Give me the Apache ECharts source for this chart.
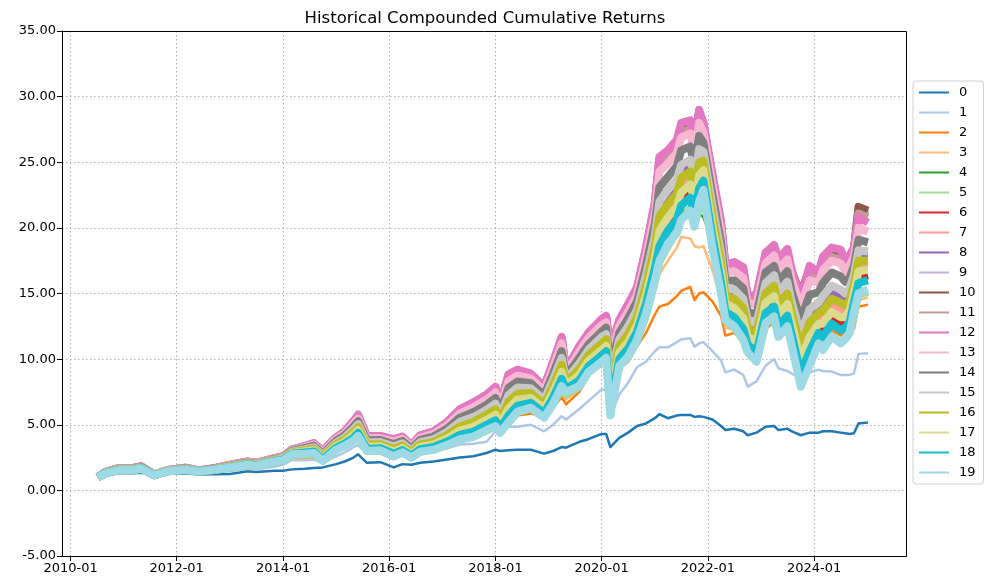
<!DOCTYPE html>
<html><head><meta charset="utf-8">
<script src="https://cdn.jsdelivr.net/npm/echarts@6/dist/echarts.min.js"></script>
<style>html,body{margin:0;padding:0;background:#fff}#c{width:996px;height:587px}</style>
</head><body><div id="c"></div>
<script>
const dates = ['2010-07-08','2010-09','2010-12','2011-03','2011-05','2011-08','2011-11','2012-03','2012-06','2012-09',
 '2013-01','2013-05','2013-07','2013-11','2014-01','2014-03','2014-06','2014-08','2014-10','2015-01',
 '2015-03','2015-05','2015-06','2015-08','2015-11','2016-02','2016-04','2016-06','2016-08','2016-11',
 '2017-02','2017-05','2017-08','2017-11','2018-01','2018-02','2018-04','2018-06','2018-09','2018-12',
 '2019-02','2019-04','2019-05','2019-08','2019-10','2020-01','2020-02','2020-03','2020-05','2020-07',
 '2020-09','2020-11','2021-01','2021-02','2021-04','2021-06','2021-07','2021-09','2021-10','2021-11',
 '2021-12','2022-02','2022-04','2022-05','2022-07','2022-09','2022-10','2022-12','2023-02','2023-04',
 '2023-05','2023-07','2023-08','2023-10','2023-12','2024-02','2024-03','2024-05','2024-07','2024-08',
 '2024-09','2024-10','2024-11','2025-01-05'];

const s0 = [1.0,1.15,1.3,1.3,1.35,1.15,1.28,1.3,1.2,1.22, 1.25,1.45,1.4,1.5,1.5,1.6,1.65,1.7,1.75,2.0, 2.2,2.5,2.75,2.1,2.15,1.75,2.0,1.95,2.1,2.2, 2.35,2.5,2.6,2.85,3.1,3.0,3.05,3.1,3.1,2.8, 3.0,3.3,3.25,3.7,3.9,4.3,4.3,3.3,4.0,4.4, 4.9,5.1,5.5,5.8,5.5,5.7,5.75,5.75,5.6,5.65, 5.6,5.4,4.9,4.6,4.7,4.5,4.2,4.4,4.85,4.9, 4.6,4.7,4.5,4.2,4.4,4.4,4.5,4.5,4.4,4.35, 4.3,4.35,5.1,5.17];
const s1 = [1.0,1.2,1.4,1.38,1.45,1.15,1.35,1.4,1.3,1.38, 1.45,1.65,1.6,1.8,1.95,2.3,2.3,2.35,2.1,2.6, 2.9,3.3,3.45,2.8,2.8,2.4,2.65,2.4,2.75,3.0, 3.2,3.5,3.55,3.7,4.5,4.5,4.85,4.85,5.0,4.5, 5.0,5.65,5.4,6.2,6.8,7.7,7.6,5.7,7.3,8.2, 9.4,9.8,10.6,10.9,10.9,11.3,11.5,11.6,10.95,11.2, 11.3,10.6,9.9,9.0,9.2,8.8,7.9,8.3,9.5,10.0, 9.3,9.1,8.9,8.55,9.0,9.2,9.1,9.05,8.8,8.8, 8.8,8.9,10.4,10.45];
const s2 = [1.0,1.25,1.45,1.45,1.55,1.15,1.4,1.48,1.35,1.45, 1.6,1.8,1.75,2.0,2.1,2.5,2.5,2.55,2.2,3.05, 3.3,3.6,3.75,2.9,2.95,2.5,2.8,2.45,2.85,3.05, 3.35,3.75,3.95,4.4,4.8,4.4,5.0,5.7,5.85,5.6, 6.3,7.1,6.55,7.5,8.85,9.6,10.0,7.9,9.3,9.8, 11.0,12.0,13.4,14.0,14.2,14.8,15.2,15.5,14.5,15.0, 15.1,14.4,13.3,11.8,12.0,11.5,10.9,10.5,12.3,12.8, 11.8,12.3,11.6,10.5,11.2,11.6,11.8,12.2,11.8,12.0, 12.0,12.3,14.0,14.15];
const s3 = [1.0,1.28,1.5,1.5,1.6,1.15,1.42,1.52,1.4,1.5, 1.65,1.88,1.82,2.1,2.18,2.6,2.62,2.67,2.22,3.07, 3.34,3.68,3.91,2.94,2.99,2.54,2.84,2.47,2.89,3.07, 3.39,3.81,4.01,4.48,4.84,4.4,5.08,5.82,6.03,5.58, 6.42,7.44,6.93,7.68,8.91,9.68,10.0,7.0,9.4,10.0, 11.2,12.8,15.2,16.5,17.5,18.5,19.3,19.2,18.6,18.5, 18.6,16.8,14.5,12.4,12.2,11.4,10.8,10.3,12.6,13.0, 11.8,12.4,11.4,9.5,10.6,11.4,11.2,11.9,11.4,11.7, 12.0,12.8,14.5,14.7];
const s4 = [1.0,1.3,1.5,1.52,1.62,1.15,1.44,1.55,1.42,1.52, 1.7,1.92,1.86,2.15,2.24,2.68,2.71,2.76,2.24,3.09, 3.37,3.74,4.03,2.97,3.02,2.57,2.87,2.49,2.92,3.09, 3.42,3.86,4.06,4.54,4.87,4.4,5.14,5.91,6.17,5.57, 6.51,7.7,7.22,7.82,8.96,9.74,10.1,6.6,9.45,10.1, 11.3,13.2,15.8,17.3,18.5,19.8,21.0,21.6,20.5,21.1, 20.8,19.0,15.5,12.9,12.4,11.4,10.7,10.1,12.7,13.1, 11.8,12.4,11.3,9.0,10.2,11.3,11.0,11.8,11.3,11.6, 12.0,13.2,14.8,15.0];
const s5 = [1.0,1.3,1.52,1.53,1.63,1.15,1.45,1.56,1.42,1.53, 1.71,1.93,1.87,2.17,2.27,2.72,2.76,2.81,2.25,3.1, 3.39,3.77,4.09,2.99,3.04,2.59,2.89,2.5,2.94,3.1, 3.44,3.88,4.08,4.57,4.89,4.4,5.17,5.96,6.24,5.56, 6.56,7.83,7.36,7.89,8.98,9.77,10.1,6.15,9.48,10.15, 11.4,13.35,15.9,17.4,18.65,19.7,20.8,21.45,20.3,21.55, 22.35,18.75,15.25,12.95,12.45,11.45,10.6,9.95,12.7,13.2, 11.75,12.45,11.15,8.45,9.85,11.25,10.85,11.75,11.25,11.55, 12.0,13.4,14.9,15.15];
const s6 = [1.0,1.33,1.58,1.58,1.69,1.16,1.47,1.6,1.45,1.57, 1.77,2.0,1.93,2.25,2.36,2.83,2.93,3.01,2.41,3.3, 3.64,4.12,4.48,3.25,3.29,2.88,3.16,2.7,3.22,3.4, 3.83,4.39,4.66,5.18,5.54,4.87,5.98,6.69,6.86,6.05, 7.29,8.75,7.86,8.6,9.64,10.5,10.8,6.77,10.3,11.1, 12.4,14.6,17.3,19.2,20.3,21.1,22.2,22.8,21.5,23.5, 24.0,19.7,16.2,13.9,13.55,12.7,11.4,10.9,13.9,14.4, 13.0,13.8,12.2,9.4,11.1,12.4,12.2,13.2,12.7,12.8, 13.3,14.65,16.2,16.4];
const s7 = [1.0,1.34,1.6,1.6,1.72,1.17,1.49,1.62,1.46,1.59, 1.8,2.04,1.96,2.29,2.41,2.88,3.01,3.12,2.52,3.44, 3.79,4.34,4.7,3.41,3.44,3.07,3.33,2.84,3.4,3.6, 4.08,4.72,5.03,5.57,5.97,5.19,6.5,7.14,7.23,6.39, 7.74,9.29,8.11,9.04,10.1,11.0,11.2,7.49,10.8,11.6, 12.9,15.3,18.1,20.3,21.3,22.1,23.2,23.8,22.4,24.5, 24.7,20.5,17.0,14.5,14.25,13.5,12.0,11.6,14.7,15.2, 13.8,14.6,13.1,10.4,12.2,13.1,13.2,14.1,13.8,13.7, 14.1,15.35,17.1,17.1];
const s8 = [1.0,1.36,1.62,1.62,1.74,1.17,1.5,1.64,1.48,1.61, 1.84,2.08,1.99,2.33,2.45,2.93,3.1,3.22,2.62,3.58, 3.95,4.55,4.92,3.57,3.6,3.25,3.5,2.98,3.58,3.8, 4.33,5.05,5.4,5.95,6.4,5.5,7.02,7.6,7.6,6.73, 8.2,9.83,8.35,9.48,10.5,11.4,11.7,8.2,11.3,12.2, 13.5,16.0,19.0,21.5,22.4,23.1,24.3,24.8,23.4,25.5, 25.5,21.3,17.8,15.1,14.95,14.3,12.6,12.4,15.4,16.0, 14.7,15.5,13.9,11.4,13.3,13.9,14.3,15.1,14.8,14.5, 15.0,16.05,17.9,17.9];
const s9 = [1.0,1.41,1.69,1.69,1.82,1.2,1.54,1.71,1.51,1.65, 1.93,2.18,2.08,2.43,2.58,3.08,3.37,3.56,2.96,4.0, 4.44,5.21,5.8,4.08,4.09,3.83,4.03,3.4,4.13,4.42, 5.1,6.07,6.55,7.15,7.73,6.47,8.64,9.02,8.75,7.77, 9.62,11.5,9.1,10.8,11.8,12.9,13.1,10.4,12.8,14.0, 15.3,18.2,21.7,25.0,25.5,26.3,27.6,27.8,26.2,28.6, 27.7,23.8,20.2,17.0,17.1,16.7,14.6,14.6,17.8,18.4, 17.3,18.1,16.5,15.1,16.7,16.3,17.4,18.1,17.9,17.3, 17.6,18.2,21.3,21.0];
const s10 = [1.0,1.41,1.69,1.69,1.83,1.2,1.55,1.72,1.52,1.66, 1.94,2.19,2.09,2.44,2.59,3.09,3.38,3.58,2.98,4.02, 4.47,5.26,5.65,4.12,4.12,3.86,4.06,3.42,4.17,4.46, 5.15,6.14,6.62,7.22,7.82,6.54,8.74,9.11,8.82,7.83, 9.71,11.6,9.15,10.9,11.9,13.0,13.2,10.6,12.9,14.1, 15.4,18.4,21.8,25.2,25.7,26.5,27.8,28.0,26.4,28.8, 27.9,23.9,20.3,17.1,17.3,16.8,14.7,14.8,17.95,18.55, 17.4,18.2,16.6,15.0,16.9,16.4,17.6,18.3,18.1,17.4, 17.7,18.4,21.6,21.3];
const s11 = [1.0,1.39,1.67,1.67,1.79,1.19,1.53,1.69,1.5,1.64, 1.9,2.15,2.05,2.4,2.57,3.07,3.34,3.52,2.92,3.96, 4.39,5.15,5.54,4.03,4.04,3.77,3.98,3.36,4.08,4.36, 5.03,5.97,6.44,7.03,7.6,6.38,8.48,8.88,8.64,7.67, 9.48,11.3,9.03,10.7,11.7,12.7,13.0,10.2,12.7,13.8, 15.1,18.0,21.4,24.6,25.2,26.0,27.3,27.5,26.0,28.3, 27.5,23.5,19.95,16.8,16.9,16.5,14.4,14.4,17.6,18.2, 17.0,17.8,16.2,14.8,16.3,16.1,17.1,17.8,17.6,17.0, 17.3,18.0,21.1,20.8];
const s12 = [1.0,1.42,1.7,1.7,1.83,1.2,1.55,1.72,1.52,1.66, 1.95,2.2,2.1,2.45,2.6,3.1,3.4,3.6,3.0,4.05, 4.5,5.3,5.7,4.15,4.15,3.9,4.1,3.45,4.2,4.5, 5.2,6.2,6.7,7.3,7.9,6.6,8.85,9.2,8.9,7.9, 9.8,11.7,9.2,11.0,12.0,13.05,13.3,10.7,13.0,14.2, 15.5,18.5,22.0,25.4,25.9,26.7,28.0,28.2,26.6,29.0, 28.0,24.1,20.5,17.2,17.4,17.0,14.8,14.9,18.1,18.7, 17.6,18.4,16.8,14.7,17.1,16.6,17.8,18.5,18.35,17.6, 17.9,18.5,20.8,20.4];
const s13 = [1.0,1.4,1.68,1.68,1.8,1.2,1.54,1.7,1.51,1.64, 1.92,2.16,2.07,2.41,2.56,3.05,3.31,3.49,2.89,3.92, 4.34,5.09,5.48,3.98,3.99,3.72,3.93,3.32,4.02,4.3, 4.95,5.87,6.33,6.92,7.47,6.29,8.33,8.74,8.53,7.57, 9.34,11.2,8.96,10.6,11.6,12.6,12.8,9.99,12.5,13.6, 14.9,17.8,21.1,24.3,24.9,25.7,26.9,27.2,25.7,28.0, 27.3,23.3,19.7,16.6,16.7,16.2,14.2,14.2,17.3,17.9, 16.8,17.6,16.0,14.0,16.0,15.8,16.8,17.5,17.3,16.7, 17.1,17.8,20.0,19.7];
const s14 = [1.0,1.38,1.66,1.66,1.78,1.19,1.52,1.68,1.49,1.63, 1.88,2.13,2.04,2.38,2.51,3.0,3.23,3.39,2.79,3.78, 4.19,4.87,5.26,3.82,3.84,3.53,3.76,3.18,3.84,4.1, 4.7,5.54,5.96,6.53,7.04,5.97,7.81,8.29,8.16,7.23, 8.89,10.6,8.71,10.1,11.1,12.1,12.4,9.27,12.0,13.1, 14.4,17.1,20.3,23.1,23.9,24.7,25.9,26.2,24.7,27.0, 26.5,22.5,18.9,16.0,16.0,15.4,13.6,13.4,16.6,17.1, 15.9,16.7,15.1,13.0,14.9,15.1,15.8,16.6,16.3,15.9, 16.2,17.1,19.1,18.9];
const s15 = [1.0,1.37,1.64,1.64,1.75,1.18,1.51,1.65,1.48,1.61, 1.85,2.09,2.01,2.34,2.47,2.95,3.14,3.28,2.68,3.64, 4.03,4.66,5.04,3.66,3.68,3.34,3.59,3.04,3.67,3.9, 4.45,5.22,5.58,6.14,6.61,5.66,7.28,7.83,7.79,6.89, 8.43,10.1,8.47,9.69,10.7,11.7,11.9,8.56,11.5,12.5, 13.8,16.4,19.4,22.0,22.9,23.7,24.8,25.2,23.8,26.0, 25.8,21.7,18.1,15.4,15.3,14.6,13.0,12.7,15.8,16.4, 15.1,15.9,14.3,11.9,13.8,14.3,14.8,15.6,15.3,15.0, 15.4,16.4,18.3,18.2];
const s16 = [1.0,1.35,1.61,1.61,1.73,1.17,1.49,1.63,1.47,1.6, 1.82,2.06,1.97,2.31,2.43,2.9,3.06,3.17,2.57,3.51, 3.87,4.44,4.81,3.49,3.52,3.16,3.41,2.91,3.49,3.7, 4.2,4.89,5.21,5.76,6.19,5.34,6.76,7.37,7.41,6.56, 7.97,9.56,8.23,9.26,10.3,11.2,11.5,7.84,11.0,11.9, 13.2,15.6,18.6,20.9,21.8,22.6,23.8,24.3,22.9,25.0, 25.1,20.9,17.4,14.8,14.6,13.9,12.3,12.0,15.0,15.6, 14.2,15.0,13.5,10.9,12.8,13.5,13.7,14.6,14.3,14.1, 14.5,15.7,17.5,17.5];
const s17 = [1.0,1.33,1.59,1.59,1.7,1.16,1.48,1.61,1.46,1.58, 1.79,2.02,1.94,2.27,2.39,2.85,2.97,3.06,2.46,3.37, 3.71,4.23,4.59,3.33,3.36,2.97,3.24,2.77,3.31,3.5, 3.95,4.56,4.84,5.37,5.76,5.03,6.24,6.91,7.04,6.22, 7.51,9.02,7.99,8.82,9.86,10.7,11.0,7.13,10.5,11.3, 12.6,14.9,17.7,19.8,20.8,21.6,22.7,23.3,22.0,24.0, 24.4,20.1,16.6,14.2,13.9,13.1,11.7,11.3,14.3,14.8, 13.4,14.2,12.7,9.9,11.7,12.7,12.7,13.6,13.2,13.2, 13.7,15.0,16.7,16.8];
const s18 = [1.0,1.32,1.57,1.57,1.68,1.16,1.46,1.59,1.44,1.57, 1.75,1.99,1.91,2.24,2.34,2.8,2.89,2.96,2.36,3.24, 3.56,4.01,4.37,3.16,3.21,2.79,3.07,2.64,3.13,3.3, 3.7,4.23,4.47,4.99,5.33,4.71,5.72,6.46,6.67,5.89, 7.06,8.49,7.74,8.39,9.43,10.3,10.6,6.41,10.0,10.8, 12.1,14.2,16.9,18.6,19.8,20.6,21.7,22.3,21.0,23.0, 23.6,19.3,15.8,13.6,13.2,12.3,11.1,10.5,13.5,14.0, 12.5,13.3,11.8,8.9,10.6,12.0,11.7,12.7,12.2,12.4, 12.8,14.3,15.8,16.0];
const s19 = [1.0,1.3,1.55,1.55,1.65,1.15,1.45,1.57,1.43,1.55, 1.72,1.95,1.88,2.2,2.3,2.75,2.8,2.85,2.25,3.1, 3.4,3.8,4.15,3.0,3.05,2.6,2.9,2.5,2.95,3.1, 3.45,3.9,4.1,4.6,4.9,4.4,5.2,6.0,6.3,5.55, 6.6,7.95,7.5,7.95,9.0,9.8,10.1,5.7,9.5,10.2, 11.5,13.5,16.0,17.5,18.8,19.6,20.6,21.3,20.1,22.0, 22.9,18.5,15.0,13.0,12.5,11.5,10.5,9.8,12.75,13.25, 11.7,12.5,11.0,7.9,9.5,11.2,10.7,11.7,11.2,11.5, 12.0,13.6,15.0,15.3];

const seriesValues = [s0,s1,s2,s3,s4,s5,s6,s7,s8,s9,s10,s11,s12,s13,s14,s15,s16,s17,s18,s19];
const seriesNames = ['0','1','2','3','4','5','6','7','8','9','10','11','12','13','14','15','16','17','18','19'];
const colors = ['#1f77b4','#aec7e8','#ff7f0e','#ffbb78','#2ca02c','#98df8a','#d62728','#ff9896','#9467bd','#c5b0d5',
  '#8c564b','#c49c94','#e377c2','#f7b6d2','#7f7f7f','#c7c7c7','#bcbd22','#dbdb8d','#17becf','#9edae5'];
const xTickYears = [2010,2012,2014,2016,2018,2020,2022,2024];
const yTicks = {min:-5, max:35, interval:5};

function ts(s){ const p = s.split('-'); return new Date(+p[0], +p[1]-1, p[2] ? +p[2] : 1).getTime(); }
const times = dates.map(ts);
const tickTimes = xTickYears.map(y => new Date(y,0,1).getTime());
const FONT = 'DejaVu Sans';
const G = {left:62, top:31, width:844, height:525};

const chart = echarts.init(document.getElementById('c'), null, {renderer:'canvas'});
chart.setOption({
  animation:false,
  backgroundColor:'#fff',
  title:{text:'Historical Compounded Cumulative Returns', left:480, top:5, textAlign:'center',
    textStyle:{fontFamily:FONT, fontSize:16.5, fontWeight:'normal', color:'#000'}},
  grid:{left:G.left, top:G.top, width:G.width, height:G.height, containLabel:false, outerBoundsMode:'none'},
  graphic:[{type:'rect', silent:true, z:100,
    shape:{x:G.left+0.5, y:G.top+0.5, width:G.width, height:G.height},
    style:{fill:'none', stroke:'#000', lineWidth:1}}],
  legend:{orient:'vertical', left:913, top:81, itemWidth:30, itemHeight:14, itemGap:7,
    padding:[5,8,5,5], borderColor:'#d0d0d0', borderWidth:1, borderRadius:3, backgroundColor:'#fff',
    textStyle:{fontFamily:FONT, fontSize:13, color:'#000', padding:[0,0,0,5]},
    itemStyle:{opacity:0}, lineStyle:{width:2}, data:seriesNames},
  xAxis:{type:'value', min:new Date(2009,10,3).getTime(), max:new Date(2025,8,24).getTime(),
    axisLine:{show:true, onZero:false, lineStyle:{color:'#000', width:1}},
    axisTick:{show:true, length:5, lineStyle:{color:'#000'}, customValues:tickTimes},
    axisLabel:{customValues:tickTimes, fontFamily:FONT, fontSize:13, color:'#000', margin:6,
      formatter:function(v){ const d = new Date(v); return d.getFullYear()+'-'+String(d.getMonth()+1).padStart(2,'0'); }},
    splitLine:{show:true, lineStyle:{color:'#b0b0b0', type:[1.5,2.5], width:1}}},
  yAxis:{type:'value', min:yTicks.min, max:yTicks.max, interval:yTicks.interval,
    axisLine:{show:true, lineStyle:{color:'#000', width:1}},
    axisTick:{show:true, length:5, lineStyle:{color:'#000'}},
    axisLabel:{fontFamily:FONT, fontSize:13, color:'#000', margin:6, formatter:v=>v.toFixed(2)},
    splitLine:{show:true, lineStyle:{color:'#b0b0b0', type:[1.5,2.5], width:1}}},
  series: seriesValues.map((vals,i)=>({
    name:seriesNames[i], type:'line', symbol:'none', showSymbol:false, silent:true,
    data: vals.map((v,k)=>[times[k], v]),
    lineStyle:{width: i<5 ? 2.5 : 8, color:colors[i], join:'round'},
    itemStyle:{color:colors[i]}
  }))
});
</script></body></html>
